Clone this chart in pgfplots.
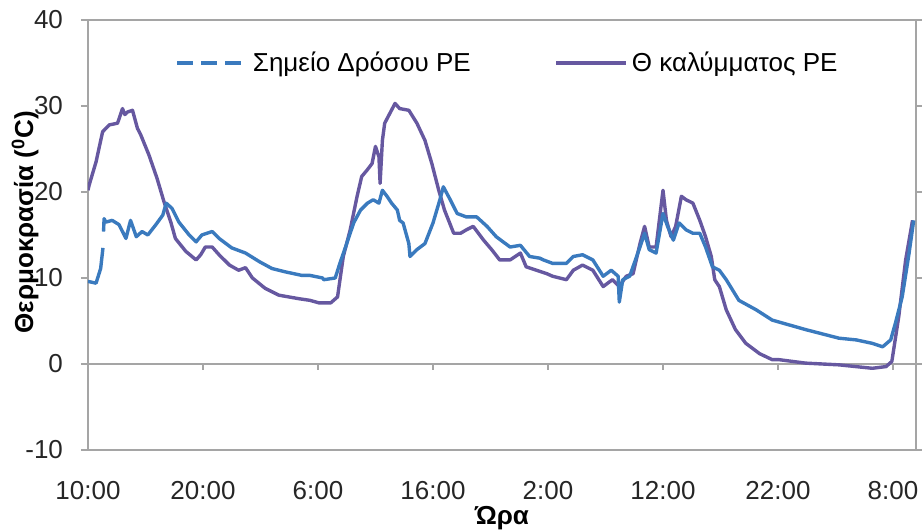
\documentclass[border=0pt]{standalone}
\usepackage{pgfplots}
\pgfplotsset{compat=1.18}
\usepackage{fontspec}
\setmainfont{Liberation Sans}
\definecolor{dewblue}{RGB}{58,122,190}
\definecolor{covpurple}{RGB}{102,88,160}
\definecolor{framegray}{RGB}{165,165,165}
\newcommand\ff{\fontsize{13}{15.6}\selectfont}
\begin{document}
\begin{tikzpicture}
\begin{axis}[
  scale only axis,
  width=414pt, height=215pt,
  xmin=0, xmax=72, ymin=-10, ymax=40,
  xtick={0,10,...,70},
  xticklabels={10:00,20:00,6:00,16:00,2:00,12:00,22:00,8:00},
  ytick={-10,0,...,40},
  xtick style={draw=none},
  ytick style={draw=framegray, line width=0.6pt},
  tick align=outside,
  major tick length=3.5pt,
  axis line style={draw=framegray, line width=0.6pt},
  ticklabel style={font=\ff, text=black!85},
  /pgf/number format/assume math mode=true,
  xticklabel style={yshift=-8.5pt},
  yticklabel style={xshift=-5.5pt},
  xlabel={\textbf{Ώρα}},
  xlabel style={font=\ff, at={(axis description cs:0.5,0)}, anchor=center, yshift=-34pt},
  ylabel={\textbf{Θερμοκρασία (\textsuperscript{0}C)}},
  ylabel style={font=\ff, at={(axis description cs:-0.076,0.53)}, anchor=center},
  legend style={draw=none, fill=none, font=\ff, legend columns=2,
    at={(axis description cs:0.508,0.9)}, anchor=center,
    /tikz/every even column/.append style={column sep=40pt}},
  legend image code/.code={\draw[#1] (0pt,0pt) -- (35pt,0pt);},
  unbounded coords=jump,
]
\coordinate (SW) at (rel axis cs:0,0);
\coordinate (NE) at (rel axis cs:1,1);
\draw[framegray, line width=0.6pt] (axis cs:0,0) -- (axis cs:72,0);
\draw[framegray, line width=0.6pt] (axis cs:10,0) -- ([yshift=-3pt]axis cs:10,0);
\draw[framegray, line width=0.6pt] (axis cs:20,0) -- ([yshift=-3pt]axis cs:20,0);
\draw[framegray, line width=0.6pt] (axis cs:30,0) -- ([yshift=-3pt]axis cs:30,0);
\draw[framegray, line width=0.6pt] (axis cs:40,0) -- ([yshift=-3pt]axis cs:40,0);
\draw[framegray, line width=0.6pt] (axis cs:50,0) -- ([yshift=-3pt]axis cs:50,0);
\draw[framegray, line width=0.6pt] (axis cs:60,0) -- ([yshift=-3pt]axis cs:60,0);
\draw[framegray, line width=0.6pt] (axis cs:70,0) -- ([yshift=-3pt]axis cs:70,0);

\addlegendimage{dewblue, line width=1.6pt, dash pattern=on 8pt off 4pt}
\addlegendentry{Σημείο Δρόσου PE}
\addlegendimage{covpurple, line width=1.6pt}
\addlegendentry{Θ καλύμματος PE}

% Cover temperature
\addplot[covpurple, line width=1.7pt, forget plot, line join=round] table {
x y
0.0 20.2
0.1 20.8
0.7 23.5
1.27 27.0
1.85 27.8
2.57 28.0
3.0 29.7
3.2 29.0
3.44 29.3
3.87 29.5
4.3 27.4
4.6 26.6
5.3 24.3
6.0 21.6
6.6 18.9
7.2 16.5
7.6 14.6
8.5 13.1
9.4 12.1
9.8 12.7
10.2 13.6
10.8 13.6
11.4 12.7
12.3 11.5
13.1 10.9
13.7 11.2
14.3 10.0
15.4 8.8
16.6 8.0
18.3 7.6
19.3 7.4
20.1 7.1
21.1 7.1
21.7 7.8
22.2 12.5
22.8 15.6
23.4 19.5
23.8 21.8
24.3 22.6
24.7 23.3
25.0 25.3
25.3 24.1
25.4 21.0
25.6 26.0
25.8 28.0
26.7 30.3
27.1 29.7
27.9 29.5
28.6 28.0
29.3 26.0
29.9 23.3
30.5 20.2
31.0 17.9
31.8 15.2
32.4 15.2
32.9 15.6
33.5 16.0
34.4 14.4
35.1 13.3
35.8 12.1
36.7 12.1
37.6 12.9
38.1 11.3
39.0 10.9
39.9 10.5
40.4 10.2
41.6 9.8
42.2 10.9
43.0 11.5
43.9 10.9
44.8 9.0
45.6 9.8
46.2 9.0
46.8 10.2
47.4 10.5
48.0 14.0
48.4 16.0
48.8 13.6
49.4 13.6
50.0 20.2
50.3 16.7
50.7 14.8
51.1 16.0
51.6 19.5
52.0 19.1
52.6 18.7
53.2 16.7
53.7 14.8
54.2 12.5
54.5 9.8
54.9 9.0
55.5 6.3
56.3 4.0
57.2 2.4
58.4 1.2
59.5 0.5
60.1 0.5
62.4 0.1
65.3 -0.1
68.2 -0.5
69.4 -0.3
69.9 0.3
70.5 5.5
71.1 12.1
71.7 16.7
};

% Dew point
\addplot[dewblue, line width=1.7pt, forget plot, line join=round] table {
x y
0.0 9.6
0.7 9.4
1.1 11.1
1.3 13.5
1.32 nan
1.35 15.4
1.4 16.9
1.56 16.5
2.1 16.7
2.7 16.2
3.3 14.6
3.7 16.7
4.2 14.8
4.7 15.4
5.2 15.0
5.9 16.2
6.5 17.3
6.8 18.7
7.3 18.1
7.9 16.5
8.8 15.0
9.4 14.2
9.9 15.0
10.8 15.4
11.4 14.6
12.5 13.5
13.7 12.9
14.9 11.9
16.0 11.1
17.2 10.7
18.6 10.3
19.3 10.3
20.4 10.0
20.5 9.8
21.5 10.0
21.9 11.7
22.5 14.0
23.1 16.4
23.7 17.9
24.3 18.7
24.8 19.1
25.3 18.7
25.6 20.2
26.0 19.5
26.4 18.7
26.9 17.9
27.1 16.7
27.4 16.4
27.9 14.0
28.0 12.5
28.6 13.3
29.3 14.0
30.0 16.4
30.6 19.1
30.9 20.6
31.5 19.1
32.1 17.5
32.9 17.1
33.8 17.1
34.7 16.0
35.5 14.8
36.7 13.6
37.6 13.8
38.4 12.5
39.3 12.3
39.6 12.1
40.4 11.7
41.6 11.7
42.2 12.5
43.0 12.7
43.9 12.1
44.8 10.2
45.5 10.9
46.1 10.2
46.2 7.2
46.5 9.8
47.1 10.2
48.0 13.6
48.4 15.2
48.8 13.3
49.4 12.9
50.0 17.5
50.4 16.0
50.9 14.4
51.4 16.4
52.0 15.6
52.6 15.2
53.2 15.2
53.7 13.6
54.3 11.3
54.9 10.9
55.5 9.8
56.6 7.4
58.1 6.3
59.5 5.1
62.4 4.0
65.3 3.0
66.8 2.8
68.2 2.4
69.1 2.0
69.8 2.8
70.2 4.7
70.8 7.8
71.4 12.9
71.8 16.7
};
\end{axis}
\pgfresetboundingbox
\path ([shift={(-44pt,-41pt)}]SW) rectangle ([shift={(3pt,10pt)}]NE);
\end{tikzpicture}
\end{document}
